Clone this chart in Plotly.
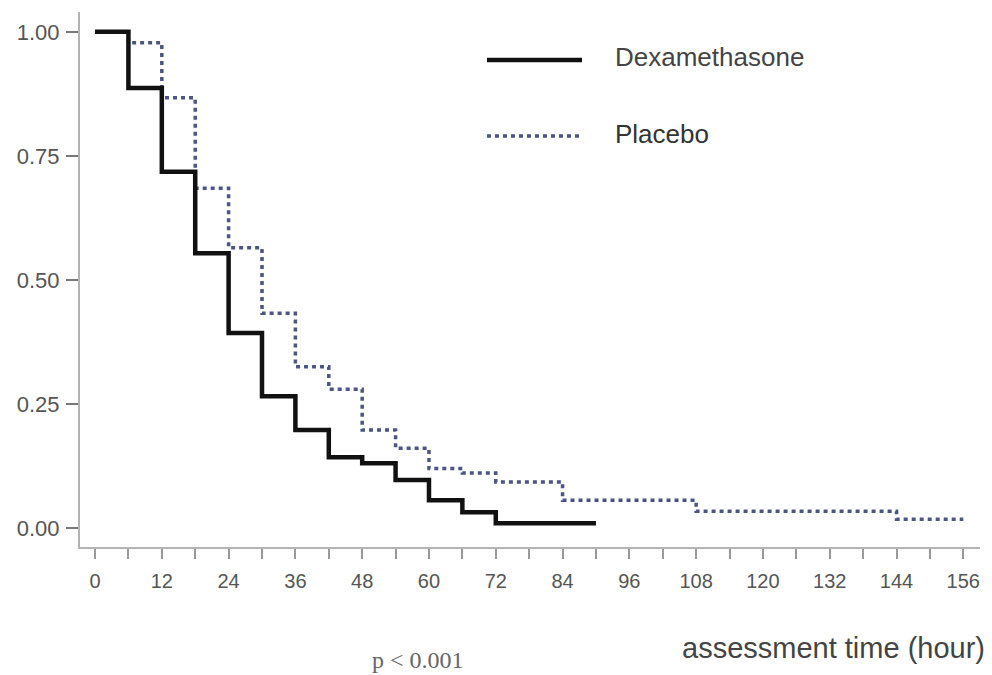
import plotly.graph_objects as go

# Kaplan-Meier step data (time in hours, proportion)
dexa_time = [0, 6, 12, 18, 24, 30, 36, 42, 48, 54, 60, 66, 72, 90]
dexa_surv = [1.00, 0.887, 0.718, 0.554, 0.393, 0.266, 0.198, 0.143, 0.131, 0.097, 0.056, 0.032, 0.010, 0.010]

plac_time = [0, 6, 12, 18, 24, 30, 36, 42, 48, 54, 60, 66, 72, 84, 108, 144, 156]
plac_surv = [1.00, 0.978, 0.867, 0.685, 0.565, 0.433, 0.325, 0.280, 0.198, 0.161, 0.120, 0.111, 0.093, 0.056, 0.034, 0.018, 0.018]

x_ticks = list(range(0, 157, 12))
y_ticks = [0.0, 0.25, 0.5, 0.75, 1.0]
y_tick_labels = ["0.00", "0.25", "0.50", "0.75", "1.00"]

series_names = ["Dexamethasone", "Placebo"]

W, H = 992, 675
ML, MR, MT, MB = 80, 12, 12, 128
PW, PH = W - ML - MR, H - MT - MB


def px(xp):
    return (xp - ML) / PW


def py(yp):
    return (H - MB - yp) / PH


BLACK = "#111111"
BLUE = "#4a5584"
AXIS = "#b3b3b3"
TXT = "#555555"

fig = go.Figure()
fig.add_trace(go.Scatter(x=plac_time, y=plac_surv, mode="lines", line_shape="hv",
                         line=dict(color=BLUE, width=3.5, dash="4px,4px"),
                         name=series_names[1], showlegend=False))
fig.add_trace(go.Scatter(x=dexa_time, y=dexa_surv, mode="lines", line_shape="hv",
                         line=dict(color=BLACK, width=4.5),
                         name=series_names[0], showlegend=False))

# legend keys
fig.add_shape(type="line", xref="paper", yref="paper", x0=px(487), x1=px(582), y0=py(60), y1=py(60),
              line=dict(color=BLACK, width=4.5))
fig.add_shape(type="line", xref="paper", yref="paper", x0=px(487), x1=px(582), y0=py(136), y1=py(136),
              line=dict(color=BLUE, width=3.5, dash="4px,4px"))
fig.add_annotation(xref="paper", yref="paper", x=px(613), y=py(57), text=series_names[0],
                   showarrow=False, xanchor="left", yanchor="middle",
                   font=dict(family="Liberation Sans", size=26, color="#444444"))
fig.add_annotation(xref="paper", yref="paper", x=px(613), y=py(134), text=series_names[1],
                   showarrow=False, xanchor="left", yanchor="middle",
                   font=dict(family="Liberation Sans", size=26, color="#333333"))

fig.add_annotation(xref="paper", yref="paper", x=px(987), y=py(648), text="assessment time (hour)",
                   showarrow=False, xanchor="right", yanchor="middle",
                   font=dict(family="Liberation Sans", size=29, color="#444444"))
fig.add_annotation(xref="paper", yref="paper", x=px(418), y=py(660), text="p &lt; 0.001",
                   showarrow=False, xanchor="center", yanchor="middle",
                   font=dict(family="Liberation Serif", size=24, color="#666666"))

fig.update_xaxes(range=[-2.7, 159.0], tickvals=x_ticks, ticktext=[str(v) for v in x_ticks],
                 showline=True, linecolor=AXIS, linewidth=2, ticks="outside", ticklen=10,
                 tickcolor="#999999", tickwidth=2, showgrid=False, zeroline=False,
                 minor=dict(dtick=6, tick0=0, ticks="outside", ticklen=10, tickcolor="#999999", tickwidth=2,
                            showgrid=False),
                 tickfont=dict(family="Liberation Sans", size=20, color=TXT), ticklabelstandoff=5,
                 automargin=False)
fig.update_yaxes(range=[-0.038, 1.04], tickvals=y_ticks, ticktext=y_tick_labels,
                 showline=True, linecolor=AXIS, linewidth=2, ticks="outside", ticklen=12,
                 tickcolor="#777777", tickwidth=2, showgrid=False, zeroline=False,
                 tickfont=dict(family="Liberation Sans", size=22, color=TXT), ticklabelstandoff=2,
                 automargin=False)

fig.update_layout(width=W, height=H, margin=dict(l=ML, r=MR, t=MT, b=MB),
                  plot_bgcolor="white", paper_bgcolor="white", showlegend=False)

fig.write_html("out.html", config={"displayModeBar": False},
               post_script="document.body.style.margin='0';document.body.style.overflow='hidden';")
